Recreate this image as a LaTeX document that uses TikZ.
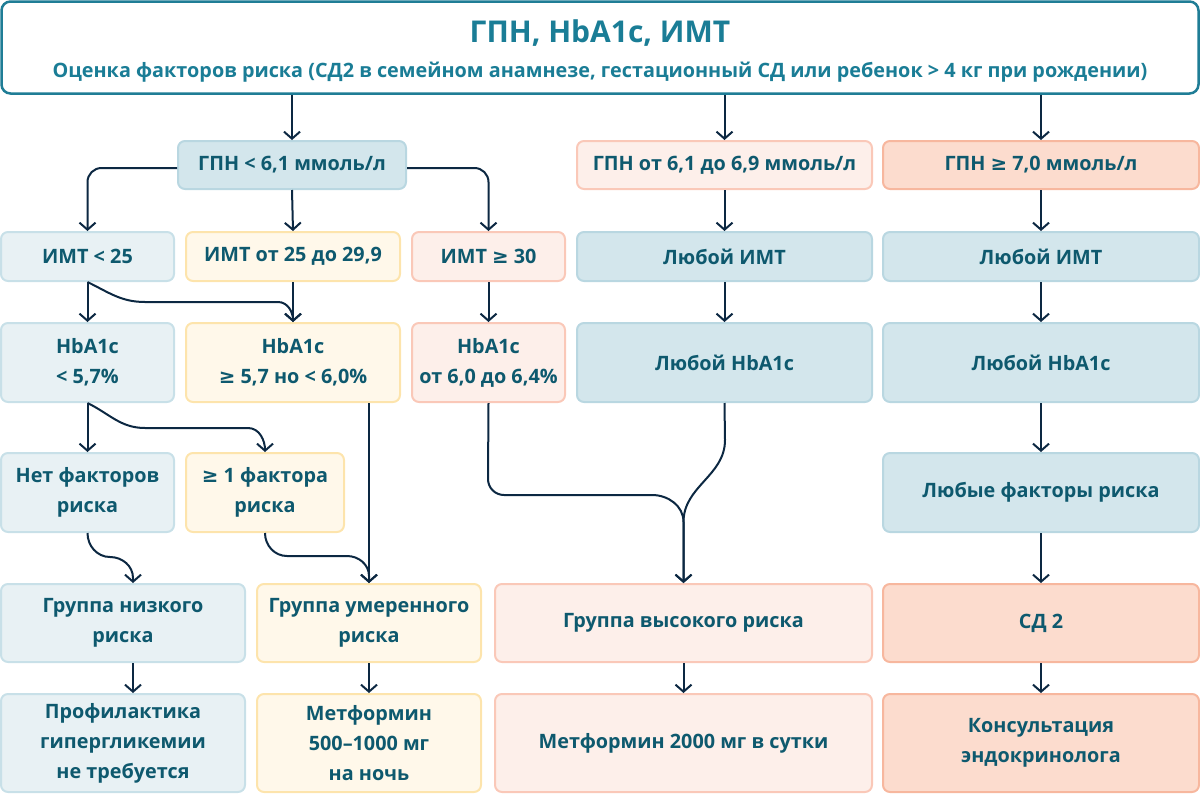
\documentclass[tikz,border=0pt]{standalone}
\usepackage{fontspec}
\setmainfont{Open Sans}
\newfontfamily\symf{DejaVu Sans}
\usetikzlibrary{arrows.meta,calc}
\newcommand{\gesym}{{\symf\bfseries ≥}}
\definecolor{textc}{RGB}{14,89,110}
\definecolor{titlec}{RGB}{26,125,150}
\definecolor{topbord}{RGB}{31,125,150}
\definecolor{arrc}{RGB}{12,40,66}
\definecolor{fA}{RGB}{232,241,244}\definecolor{dA}{RGB}{200,224,232}
\definecolor{fB}{RGB}{211,230,236}\definecolor{dB}{RGB}{185,215,225}
\definecolor{fC}{RGB}{255,248,234}\definecolor{dC}{RGB}{253,228,172}
\definecolor{fD}{RGB}{253,239,234}\definecolor{dD}{RGB}{250,200,184}
\definecolor{fE}{RGB}{252,220,206}\definecolor{dE}{RGB}{247,183,158}
\tikzset{
  bx/.style={rounded corners=7pt, line width=2pt, inner sep=0pt, align=center,
    text=textc, font=\fontsize{19.8}{30}\selectfont\bfseries},
  bxA/.style={bx, fill=fA, draw=dA},
  bxB/.style={bx, fill=fB, draw=dB},
  bxC/.style={bx, fill=fC, draw=dC},
  bxD/.style={bx, fill=fD, draw=dD},
  bxE/.style={bx, fill=fE, draw=dE},
  arr/.style={draw=arrc, line width=2pt, -{Straight Barb[length=7pt,width=16pt,line width=2pt]}},
}
\begin{document}
\begin{tikzpicture}[x=1pt,y=-1pt]
\useasboundingbox (0,0) rectangle (1200,793);
% top box
\node[rounded corners=9pt, line width=2.5pt, draw=topbord, fill=white, minimum width=1197pt, minimum height=92pt, inner sep=0pt] (top) at (600,47.5) {};
\node[font=\fontsize{30}{34}\selectfont\bfseries, text=titlec, inner sep=0pt] (title) at (600,33) {ГПН, HbA1c, ИМТ};
\node[font=\fontsize{19.8}{22}\selectfont\bfseries, text=titlec, inner sep=0pt] (sub) at (600,72) {Оценка факторов риска (СД2 в семейном анамнезе, гестационный СД или ребенок > 4 кг при рождении)};
% row 1
\node[bxB, minimum width=228pt, minimum height=48pt] (g1) at (292,165) {ГПН < 6,1 ммоль/л};
\node[bxD, minimum width=295pt, minimum height=48pt] (g2) at (724.5,165) {ГПН от 6,1 до 6,9 ммоль/л};
\node[bxE, minimum width=316pt, minimum height=48pt] (g3) at (1041,165) {ГПН \gesym\ 7,0 ммоль/л};
% row 2
\node[bxA, minimum width=173pt, minimum height=49pt] (i1) at (87.5,256.5) {ИМТ < 25};
\node[bxC, minimum width=214pt, minimum height=49pt] (i2) at (293,256.5) {ИМТ от 25 до 29,9};
\node[bxD, minimum width=153pt, minimum height=49pt] (i3) at (488.5,256.5) {ИМТ \gesym\ 30};
\node[bxB, minimum width=295pt, minimum height=49pt] (i4) at (724.5,256.5) {Любой ИМТ};
\node[bxB, minimum width=316pt, minimum height=49pt] (i5) at (1041,256.5) {Любой ИМТ};
% row 3
\node[bxA, minimum width=173pt, minimum height=79pt] (h1) at (87.5,362.5) {HbA1c\\< 5,7\%};
\node[bxC, minimum width=214pt, minimum height=79pt] (h2) at (293,362.5) {HbA1c\\\gesym\ 5,7 но < 6,0\%};
\node[bxD, minimum width=153pt, minimum height=79pt] (h3) at (488.5,362.5) {HbA1c\\от 6,0 до 6,4\%};
\node[bxB, minimum width=295pt, minimum height=79pt] (h4) at (724.5,362.5) {Любой HbA1c};
\node[bxB, minimum width=316pt, minimum height=79pt] (h5) at (1041,362.5) {Любой HbA1c};
% row 4
\node[bxA, minimum width=173pt, minimum height=79pt] (f1) at (87.5,492.5) {Нет факторов\\риска};
\node[bxC, minimum width=158pt, minimum height=79pt] (f2) at (265,492.5) {\gesym\ 1 фактора\\риска};
\node[bxB, minimum width=316pt, minimum height=79pt] (f5) at (1041,492.5) {Любые факторы риска};
% row 5
\node[bxA, minimum width=244pt, minimum height=78pt] (r1) at (123,623) {Группа низкого\\риска};
\node[bxC, minimum width=224pt, minimum height=78pt] (r2) at (369,623) {Группа умеренного\\риска};
\node[bxD, minimum width=377pt, minimum height=78pt] (r3) at (683.5,623) {Группа высокого риска};
\node[bxE, minimum width=316pt, minimum height=78pt] (r5) at (1041,623) {СД 2};
% row 6
\node[bxA, minimum width=244pt, minimum height=98pt] (t1) at (123,743) {Профилактика\\гипергликемии\\не требуется};
\node[bxC, minimum width=224pt, minimum height=98pt] (t2) at (369,743) {Метформин\\500–1000 мг\\на ночь};
\node[bxD, minimum width=377pt, minimum height=98pt] (t3) at (683.5,743) {Метформин 2000 мг в сутки};
\node[bxE, minimum width=316pt, minimum height=98pt] (t5) at (1041,743) {Консультация\\эндокринолога};
% connectors from top
\draw[arr] (g1.north |- top.south) -- (g1.north);
\draw[arr] (g2.north |- top.south) -- (g2.north);
\draw[arr] (g3.north |- top.south) -- (g3.north);
% from g1
\draw[arr, rounded corners=14pt] ([yshift=-3pt]g1.west) -| (i1.north);
\draw[arr] (g1.south) -- (i2.north);
\draw[arr, rounded corners=14pt] ([yshift=-3pt]g1.east) -| (i3.north);
\draw[arr] (g2.south) -- (i4.north);
\draw[arr] (g3.south) -- (i5.north);
% row2 -> row3
\draw[arr] (i1.south) -- (h1.north);
\draw[arr] (i1.south) to[out=-26,in=180] (145,302) -- (278,302) to[out=0,in=90] (h2.north);
\draw[arr] (i2.south) -- (h2.north);
\draw[arr] (i3.south) -- (h3.north);
\draw[arr] (i4.south) -- (h4.north);
\draw[arr] (i5.south) -- (h5.north);
% row3 -> row4
\draw[arr] (h1.south) -- (f1.north);
\draw[arr] (h1.south) to[out=-26,in=180] (145,428) -- (248,428) to[out=0,in=90] (f2.north);
\draw[arr] (h5.south) -- (f5.north);
% to row 5
\draw[arr] (r2.north |- h2.south) -- (r2.north);
\draw[arr] (f2.south) to[out=-90,in=180] (287,556) -- (347,556) to[out=0,in=90] (369,576) -- (r2.north);
\draw[arr] (f1.south) to[out=-90,in=180] (110,557) to[out=0,in=90] (133,578) -- ([xshift=10pt]r1.north);
\draw[arr] (h3.south) -- (488,479) to[out=-90,in=180] (504,495) -- (652,495) to[out=0,in=90] (683.5,522) -- (r3.north);
\draw[arr] (h4.south) -- (725,440) to[out=-90,in=90] (683.5,522) -- (r3.north);
\draw[arr] (f5.south) -- (r5.north);
% to row 6
\draw[arr] ([xshift=10pt]r1.south) -- ([xshift=10pt]t1.north);
\draw[arr] (r2.south) -- (t2.north);
\draw[arr] (r3.south) -- (t3.north);
\draw[arr] (r5.south) -- (t5.north);
\end{tikzpicture}
\end{document}
